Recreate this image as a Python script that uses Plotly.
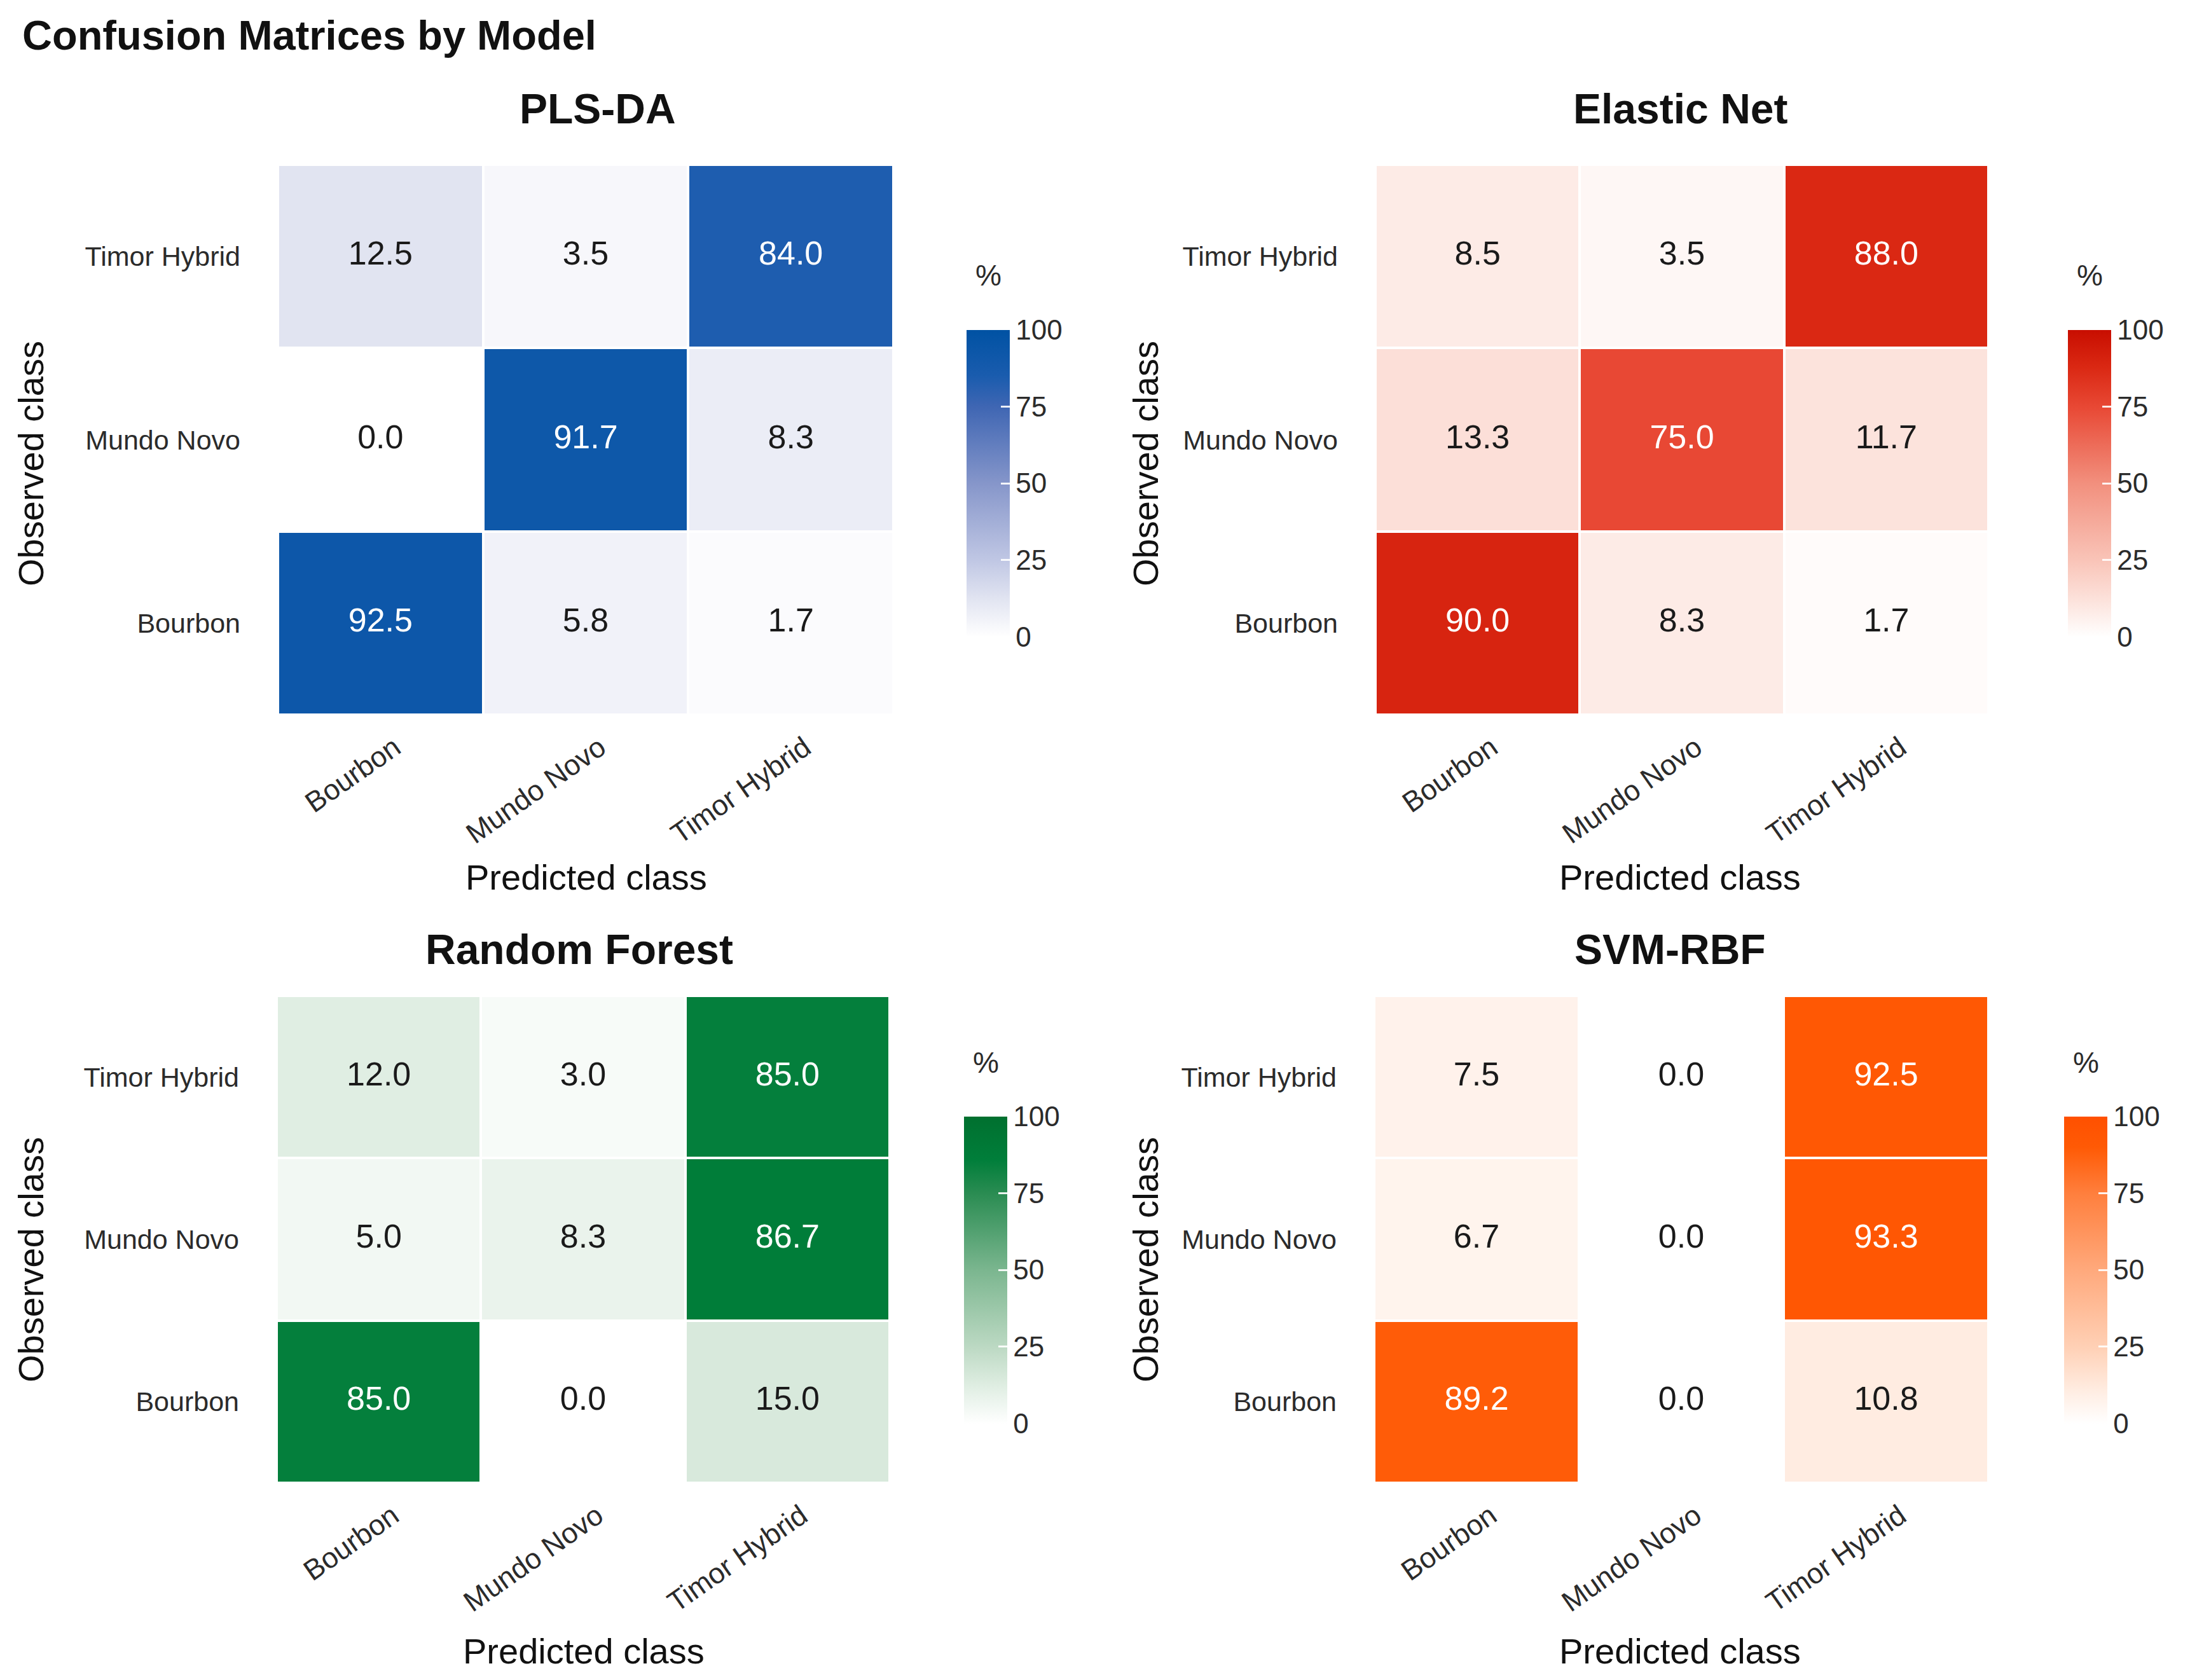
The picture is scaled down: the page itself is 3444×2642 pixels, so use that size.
import plotly.graph_objects as go

# ---------------- data ----------------
classes = ["Bourbon", "Mundo Novo", "Timor Hybrid"]   # predicted (x) and observed (y, bottom->top)
models = ["PLS-DA", "Elastic Net", "Random Forest", "SVM-RBF"]

# rows = observed class (Bourbon, Mundo Novo, Timor Hybrid); cols = predicted class
pls_da = [[92.5, 5.8, 1.7],
          [0.0, 91.7, 8.3],
          [12.5, 3.5, 84.0]]
elastic_net = [[90.0, 8.3, 1.7],
               [13.3, 75.0, 11.7],
               [8.5, 3.5, 88.0]]
random_forest = [[85.0, 0.0, 15.0],
                 [5.0, 8.3, 86.7],
                 [12.0, 3.0, 85.0]]
svm_rbf = [[89.2, 0.0, 10.8],
           [6.7, 0.0, 93.3],
           [7.5, 0.0, 92.5]]
matrices = [pls_da, elastic_net, random_forest, svm_rbf]
cbar_ticks = [0, 25, 50, 75, 100]

# colour scales (sampled from the reference legend bars)
blues = [[0, "#FFFFFF"], [0.125, "#E1E4F1"], [0.25, "#C0C7E4"], [0.5, "#8696CA"],
         [0.75, "#3F66B3"], [0.85, "#1A5CAE"], [1, "#0052A3"]]
reds = [[0, "#FFFFFF"], [0.125, "#FCE1DA"], [0.25, "#F9C4B8"], [0.5, "#F2907E"],
        [0.75, "#E84834"], [0.88, "#DA2813"], [1, "#C80E00"]]
greens = [[0, "#FFFFFF"], [0.12, "#E0EEE3"], [0.25, "#BCD9C3"], [0.5, "#7BB68F"],
          [0.75, "#2A8C52"], [0.86, "#007E3A"], [1, "#00702F"]]
oranges = [[0, "#FFFFFF"], [0.1, "#FFEEE4"], [0.25, "#FFD0B5"], [0.5, "#FFA97C"],
           [0.75, "#FF7F3D"], [0.9, "#FF5A05"], [1, "#FF5000"]]
scales = [blues, reds, greens, oranges]

# ---------------- layout (styling) ----------------
W, H = 3444, 2642
FONT = "Liberation Sans, Arial, Helvetica, sans-serif"

# panel pixel boxes: (left, right, top, bottom)
boxes = [(437, 1405, 259, 1124), (2163, 3127, 259, 1124),
         (435, 1399, 1566, 2332), (2161, 3127, 1566, 2332)]
cbar_x = [1520, 3252, 1516, 3246]
cbar_c = [760, 760, 1997, 1997]
cbar_len = 483
cbar_thick = 68
title_pos = [(940, 171), (2642, 171), (911, 1493), (2626, 1493)]
xt_pos = [(922, 1379), (2642, 1379), (918, 2596), (2642, 2596)]
yt_pos = [(48, 729), (1801, 729), (48, 1981), (1801, 1981)]

px = lambda x: x / W
py = lambda y: 1 - y / H

fig = go.Figure()
annotations = []
for i, (name, mat, cs) in enumerate(zip(models, matrices, scales)):
    ax = "" if i == 0 else str(i + 1)
    L, R, T, B = boxes[i]
    fig.add_trace(go.Heatmap(
        z=mat, x=classes, y=classes, zmin=0, zmax=100,
        colorscale=cs, xgap=4, ygap=4,
        xaxis="x" + ax, yaxis="y" + ax, hoverinfo="skip",
        colorbar=dict(
            x=px(cbar_x[i]), xanchor="left", xpad=0, ypad=0,
            y=py(cbar_c[i]), yanchor="middle",
            lenmode="pixels", len=cbar_len, thickness=cbar_thick,
            outlinewidth=0, tickvals=cbar_ticks, ticks="inside",
            ticklen=14, tickwidth=3, tickcolor="rgba(255,255,255,0.9)",
            tickprefix="\u00a0\u00a0",
            tickfont=dict(family=FONT, size=44, color="#2B2B2B"),
        ),
    ))
    xs, ys, txt, cols = [], [], [], []
    for r, obs in enumerate(classes):
        for c, pred in enumerate(classes):
            v = mat[r][c]
            xs.append(pred)
            ys.append(obs)
            txt.append("%.1f" % v)
            cols.append("#FFFFFF" if v > 50 else "#1A1A1A")
    fig.add_trace(go.Scatter(
        x=xs, y=ys, text=txt, mode="text", xaxis="x" + ax, yaxis="y" + ax,
        textfont=dict(family=FONT, size=52, color=cols), showlegend=False,
        hoverinfo="skip"))
    common = dict(showgrid=False, zeroline=False, showline=False,
                  categoryorder="array", categoryarray=classes)
    fig.update_layout(**{
        "xaxis" + ax: dict(domain=[px(L), px(R)], anchor="y" + ax,
                           tickangle=-35, ticks="", ticklabelstandoff=16,
                           ticklabelshift=22,
                           tickfont=dict(family=FONT, size=45, color="#2B2B2B"),
                           **common),
        "yaxis" + ax: dict(domain=[py(B), py(T)], anchor="x" + ax,
                           ticks="", ticklabelstandoff=58,
                           tickfont=dict(family=FONT, size=43, color="#2B2B2B"),
                           **common),
    })
    tx, ty = title_pos[i]
    annotations.append(dict(text="<b>%s</b>" % name, x=px(tx), y=py(ty),
                            xref="paper", yref="paper", showarrow=False,
                            xanchor="center", yanchor="middle",
                            font=dict(family=FONT, size=66, color="#111111")))
    ax_, ay_ = xt_pos[i]
    annotations.append(dict(text="Predicted class", x=px(ax_), y=py(ay_),
                            xref="paper", yref="paper", showarrow=False,
                            xanchor="center", yanchor="middle",
                            font=dict(family=FONT, size=56, color="#111111")))
    bx, by = yt_pos[i]
    annotations.append(dict(text="Observed class", x=px(bx), y=py(by),
                            xref="paper", yref="paper", showarrow=False,
                            textangle=-90, xanchor="center", yanchor="middle",
                            font=dict(family=FONT, size=56, color="#111111")))
    annotations.append(dict(text="%", x=px(cbar_x[i] + cbar_thick / 2),
                            y=py(cbar_c[i] - cbar_len / 2 - 85),
                            xref="paper", yref="paper", showarrow=False,
                            xanchor="center", yanchor="middle",
                            font=dict(family=FONT, size=46, color="#2B2B2B")))

annotations.append(dict(text="<b>Confusion Matrices by Model</b>", x=px(33), y=py(55),
                        xref="paper", yref="paper", showarrow=False,
                        xanchor="left", yanchor="middle",
                        font=dict(family=FONT, size=65, color="#111111")))

fig.update_layout(width=W, height=H, margin=dict(l=0, r=0, t=0, b=0),
                  paper_bgcolor="white", plot_bgcolor="white",
                  showlegend=False, annotations=annotations)

fig.write_html("out.html")
